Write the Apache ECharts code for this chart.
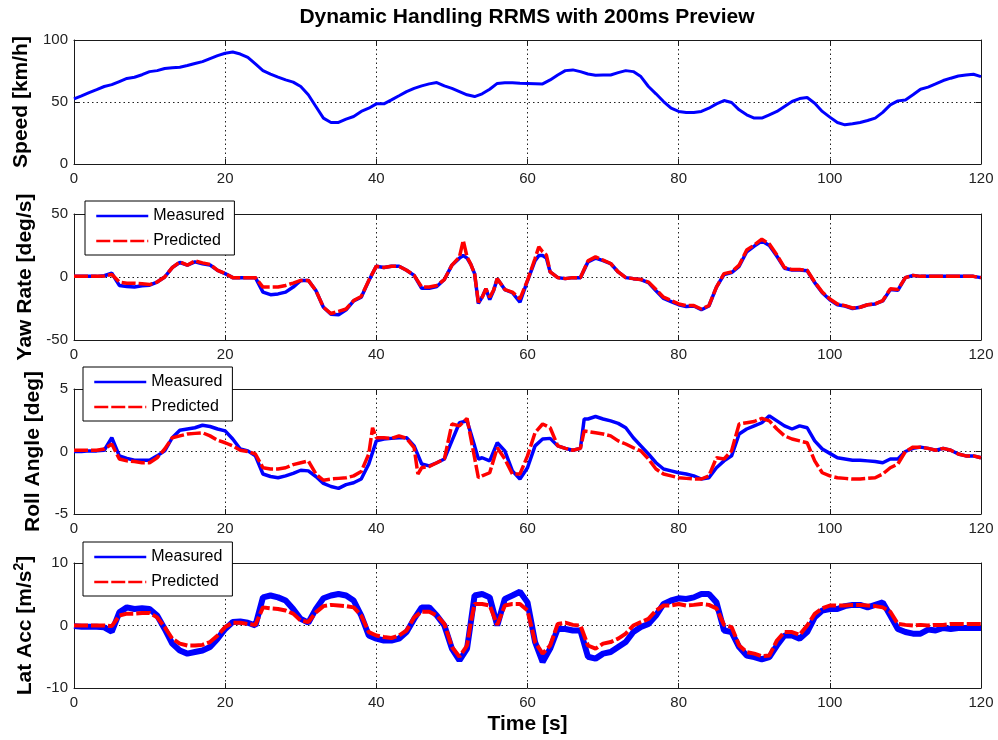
<!DOCTYPE html>
<html>
<head>
<meta charset="utf-8">
<script src="https://cdn.jsdelivr.net/npm/echarts@6/dist/echarts.min.js"></script>
<style>
  html, body { margin: 0; padding: 0; background: #ffffff; }
  #chart { width: 998px; height: 740px; }
</style>
</head>
<body>
<div id="chart"></div>
<script>
// Tick labels
const timeTicks  = [0, 20, 40, 60, 80, 100, 120];
const speedTicks = [0, 50, 100];
const yawTicks   = [-50, 0, 50];
const rollTicks  = [-5, 0, 5];
const latTicks   = [-10, 0, 10];

// Vehicle speed [km/h] vs time [s]
const speed = [
  [0,52.5],[1,55],[2,57.6],[3,60],[4,62.5],[5,64],[6,66.5],[7,69],[8,70],[9,72],
  [10,74.5],[11,75.3],[12,77],[13,77.7],[14,78],[15,79.4],[16,81],[17,82.6],[18,85],[19,87.4],
  [20,89.3],[21,90.3],[22,88.7],[23,86],[24,80.7],[25,75.3],[26,72.4],[27,70],[28,67.8],[29,66],
  [30,62.5],[31,55.8],[32,46.4],[33,37],[34,33.5],[35,33.5],[36,36.2],[37,38.3],[38,42.4],[39,45],
  [40,48.5],[41,48.5],[42,51.7],[43,55],[44,58.4],[45,61],[46,63],[47,64.6],[48,65.7],[49,63],
  [50,61],[51,58.4],[52,55.8],[53,54.4],[54,56.6],[55,60.3],[56,65],[57,65.6],[58,65.5],[59,65.2],
  [60,65],[61,64.8],[62,64.6],[63,67.8],[64,71.8],[65,75.3],[66,75.9],[67,74.5],[68,72.6],[69,71.6],
  [70,71.8],[71,71.8],[72,73.7],[73,75.3],[74,74.5],[75,70.5],[76,62.5],[77,56.6],[78,50.4],[79,45],
  [80,42.4],[81,41.6],[82,41.6],[83,42.4],[84,45],[85,48.5],[86,51.2],[87,49.6],[88,43.7],[89,39.7],
  [90,37],[91,37],[92,39.7],[93,42.4],[94,46.4],[95,50.4],[96,52.8],[97,53.6],[98,49],[99,42.4],
  [100,37.8],[101,33.5],[102,31.6],[103,32.4],[104,33.5],[105,35.1],[106,37],[107,41.6],[108,47.7],[109,50.9],
  [110,51.7],[111,55.8],[112,60.3],[113,62],[114,64.6],[115,67.3],[116,69.2],[117,71],[118,71.8],[119,72.4],
  [120,70.5]
];

// Yaw rate [deg/s]
const yawMeasured = [
  [0,0.5],[1,0.5],[2,0.5],[3,0.5],[4,1],[5,3],[6,-6.7],[7,-7.5],[8,-8],[9,-7],
  [10,-6.5],[11,-4],[12,0],[13,7.5],[14,11.5],[15,9.4],[16,12],[17,10.5],[18,9.5],[19,5.3],
  [20,2.7],[21,-0.5],[22,-0.5],[23,-0.5],[24,-0.5],[25,-12],[26,-14],[27,-13.4],[28,-12],[29,-8],
  [30,-2.7],[31,-2.7],[32,-10.7],[33,-24],[34,-29.5],[35,-30],[36,-26],[37,-19],[38,-16],[39,-3],
  [40,8.6],[41,7.5],[42,8.6],[43,8.6],[44,5.3],[45,1.3],[46,-9],[47,-9],[48,-7.5],[49,-2],
  [50,9.4],[51,15],[51.5,17],[52,15],[52.5,10],[53,2.7],[53.5,-21],[54,-16],[54.5,-9.4],[55,-18],
  [55.5,-11],[56,-1.3],[57,-10],[58,-12.5],[59,-20],[60,-3],[61,13],[61.5,17],[62,17],[62.5,15],
  [63,4],[64,-0.5],[65,-1.3],[66,-0.5],[67,-0.5],[68,12],[69,15],[70,13],[71,10.7],[72,4],
  [73,-0.5],[74,-1.3],[75,-2],[76,-4.5],[77,-11],[78,-17],[79,-19.5],[80,-22],[81,-23.5],[82,-23],
  [83,-26],[84,-23],[85,-8],[86,2],[87,3.5],[88,8.5],[89,20],[90,24.5],[91,28.5],[92,25],
  [93,16.5],[94,7],[95,5.5],[96,5.5],[97,5],[98,-4.5],[99,-12.5],[100,-18],[101,-22],[102,-23],
  [103,-25],[104,-24],[105,-22],[106,-21.4],[107,-19],[108,-10],[109,-10.5],[110,-0.5],[111,1.3],[112,0.5],
  [113,0.5],[114,0.5],[115,0.5],[116,0.5],[117,0.5],[118,0.5],[119,0.5],[120,-0.5]
];
const yawPredicted = [
  [0,0.5],[1,0.5],[2,0.5],[3,0.5],[4,0.8],[5,2],[6,-4],[7,-5],[8,-5],[9,-5.3],
  [10,-6],[11,-4],[12,0],[13,7.5],[14,12],[15,9.4],[16,12.8],[17,11.2],[18,10],[19,5.3],
  [20,2.7],[21,-0.5],[22,-0.5],[23,-0.5],[24,-0.5],[25,-8],[26,-8],[27,-8],[28,-6.7],[29,-4.8],
  [30,-2.7],[31,-2.7],[32,-10.7],[33,-24],[34,-29],[35,-27.3],[36,-25.4],[37,-18.7],[38,-15.5],[39,-2.7],
  [40,8.6],[41,7.5],[42,8.6],[43,8.6],[44,5.3],[45,1.3],[46,-8],[47,-8],[48,-6.7],[49,-2],
  [50,9.4],[51,16],[51.5,29],[52,16],[52.5,10],[53,2.7],[53.5,-20],[54,-16],[54.5,-9.4],[55,-16],
  [55.5,-10.7],[56,-1.3],[57,-10],[58,-12],[59,-17.4],[60,-2.7],[61,14.7],[61.5,24],[62,20],[62.5,17.4],
  [63,4],[64,-0.5],[65,-1.3],[66,-0.5],[67,-0.5],[68,12.8],[69,16],[70,13.4],[71,10.7],[72,4],
  [73,-0.5],[74,-1.3],[75,-2],[76,-4],[77,-10],[78,-16],[79,-18.7],[80,-21.4],[81,-22.7],[82,-22.7],
  [83,-25.4],[84,-22.7],[85,-8],[86,2.7],[87,4],[88,9.4],[89,21.4],[90,25.4],[91,30],[92,26.2],
  [93,17.4],[94,7.5],[95,5.9],[96,5.9],[97,5.3],[98,-4],[99,-12],[100,-17.4],[101,-21.4],[102,-22.7],
  [103,-24.6],[104,-24],[105,-22],[106,-21.4],[107,-18.7],[108,-9.4],[109,-10],[110,-0.5],[111,1.3],[112,0.5],
  [113,0.5],[114,0.5],[115,0.5],[116,0.5],[117,0.5],[118,0.5],[119,0.5],[120,-0.5]
];

// Roll angle [deg]
const rollMeasured = [
  [0,0],[1,0],[2,0.05],[3,0.05],[4,0.1],[5,1.1],[6,-0.35],[7,-0.55],[8,-0.7],[9,-0.7],
  [10,-0.7],[11,-0.35],[12,0.05],[13,1.1],[14,1.7],[15,1.8],[16,1.9],[17,2.1],[18,2],[19,1.8],
  [20,1.65],[21,1],[22,0.2],[23,0.05],[24,-0.35],[25,-1.8],[26,-2],[27,-2.1],[28,-1.95],[29,-1.75],
  [30,-1.5],[31,-1.55],[32,-2],[33,-2.55],[34,-2.8],[35,-2.95],[36,-2.65],[37,-2.5],[38,-2.2],[39,-1],
  [40,0.85],[41,1],[42,1.05],[43,1.1],[44,1.1],[45,0.45],[46,-1],[47,-1.15],[48,-0.9],[49,-0.6],
  [50,0.85],[51,2.3],[52,2.45],[53,0.45],[53.5,-0.6],[54,-0.5],[55,-0.75],[56,0.7],[57,0.05],[58,-1.55],
  [59,-2.2],[60,-1.3],[61,0.45],[62,1],[63,1.05],[64,0.45],[65,0.25],[66,0.1],[67,0.25],[67.5,2.6],
  [68,2.6],[69,2.8],[70,2.6],[71,2.45],[72,2.25],[73,1.9],[74,1.1],[75,0.45],[76,-0.2],[77,-0.9],
  [78,-1.4],[79,-1.55],[80,-1.7],[81,-1.8],[82,-1.95],[83,-2.2],[84,-2.1],[85,-1.3],[86,-0.75],[87,-0.35],
  [88,1.4],[89,1.8],[90,2.05],[91,2.3],[92,2.85],[93,2.45],[94,2.05],[95,1.8],[96,2.05],[97,1.9],
  [98,0.85],[99,0.2],[100,-0.15],[101,-0.5],[102,-0.6],[103,-0.7],[104,-0.7],[105,-0.75],[106,-0.8],[107,-0.9],
  [108,-0.6],[109,-0.6],[110,0],[111,0.25],[112,0.35],[113,0.25],[114,0.1],[115,0.25],[116,0.1],[117,-0.2],
  [118,-0.35],[119,-0.35],[120,-0.5]
];
const rollPredicted = [
  [0,0.1],[1,0.1],[2,0.1],[3,0.1],[4,0.2],[5,0.6],[6,-0.6],[7,-0.75],[8,-0.8],[9,-0.9],
  [10,-0.9],[11,-0.5],[12,0.2],[13,1.1],[14,1.25],[15,1.4],[16,1.45],[17,1.5],[18,1.25],[19,0.9],
  [20,0.7],[21,0.45],[22,0.1],[23,0],[24,-0.2],[25,-1.3],[26,-1.4],[27,-1.4],[28,-1.3],[29,-1.05],
  [30,-0.9],[31,-0.75],[32,-1.8],[33,-2.3],[34,-2.2],[35,-2.15],[36,-2.1],[37,-1.95],[38,-1.6],[39,-0.2],
  [39.5,1.9],[40,1.1],[41,1.1],[42,1.05],[43,1.25],[44,1.05],[45,0.3],[45.5,-1.8],[46,-1.3],[47,-1.2],
  [48,-0.9],[49,-0.6],[50,2.2],[51,2.05],[52,2.65],[53,-0.5],[53.5,-2.1],[54,-1.95],[55,-1.7],[56,0.3],
  [57,-0.6],[58,-1.8],[59,-1.8],[60,-0.35],[61,1.5],[62,2.2],[63,1.9],[64,0.45],[65,0.25],[66,0.1],
  [67,0.25],[67.5,1.65],[68,1.6],[69,1.5],[70,1.4],[71,1.25],[72,0.85],[73,0.6],[74,0.3],[75,0.05],
  [76,-0.6],[77,-1.4],[78,-1.8],[79,-1.95],[80,-2.1],[81,-2.15],[82,-2.2],[83,-2.2],[84,-1.95],[85,-0.5],
  [86,-0.6],[87,0.05],[88,2.2],[89,2.3],[90,2.4],[91,2.65],[92,2.45],[93,1.8],[94,1.25],[95,1],
  [96,0.85],[97,0.7],[98,-0.75],[99,-1.7],[100,-1.95],[101,-2.1],[102,-2.15],[103,-2.2],[104,-2.2],[105,-2.15],
  [106,-2.1],[107,-1.8],[108,-1.3],[109,-1],[110,0],[111,0.35],[112,0.35],[113,0.25],[114,0.1],[115,0.25],
  [116,0.1],[117,-0.2],[118,-0.35],[119,-0.35],[120,-0.5]
];

// Lateral acceleration [m/s^2]
const latMeasured = [
  [0,-0.1],[1,-0.2],[2,-0.2],[3,-0.2],[4,-0.3],[5,-1],[6,2.1],[7,2.9],[8,2.65],[9,2.75],
  [10,2.65],[11,1.6],[12,-0.55],[13,-2.9],[14,-4],[15,-4.5],[16,-4.25],[17,-4],[18,-3.45],[19,-2.1],
  [20,-0.55],[21,0.55],[22,0.65],[23,0.45],[24,0],[25,4.5],[26,4.8],[27,4.5],[28,4],[29,2.65],
  [30,1.05],[31,0.45],[32,2.65],[33,4.35],[34,4.8],[35,5.05],[36,4.8],[37,4],[38,1.6],[39,-1.6],
  [40,-2.1],[41,-2.4],[42,-2.4],[43,-2.1],[44,-1.05],[45,1.05],[46,2.9],[47,2.9],[48,1.6],[49,0],
  [50,-3.7],[51,-5.6],[52,-3.7],[52.5,0.5],[53,4.8],[54,5.05],[55,4.5],[56,0],[57,4.25],[58,4.8],
  [59,5.4],[60,3.7],[61,-2.65],[62,-5.85],[63,-3.7],[64,-0.55],[65,-0.55],[66,-0.8],[67,-0.8],[68,-5],
  [69,-5.3],[70,-4.5],[71,-4.25],[72,-3.45],[73,-2.65],[74,-1.05],[75,-0.25],[76,0.25],[77,1.6],[78,3.45],
  [79,4],[80,4.35],[81,4.25],[82,4.5],[83,5.05],[84,5.05],[85,3.7],[86,-0.8],[87,-1.05],[88,-3.45],
  [89,-4.8],[90,-5.05],[91,-5.4],[92,-5.05],[93,-3.2],[94,-1.6],[95,-1.6],[96,-2.1],[97,-1.05],[98,1.3],
  [99,2.4],[100,2.65],[101,2.65],[102,3.1],[103,3.3],[104,3.3],[105,2.9],[106,3.3],[107,3.7],[108,1.6],
  [109,-0.55],[110,-1.05],[111,-1.3],[112,-1.3],[113,-0.65],[114,-0.8],[115,-0.4],[116,-0.55],[117,-0.4],[118,-0.4],
  [119,-0.4],[120,-0.4]
];
const latPredicted = [
  [0,0],[1,0],[2,0],[3,0],[4,0],[5,-0.1],[6,1.6],[7,1.9],[8,1.9],[9,2],
  [10,2],[11,1.3],[12,-0.25],[13,-2.1],[14,-2.9],[15,-3.2],[16,-3.2],[17,-3.1],[18,-2.65],[19,-1.6],
  [20,-0.25],[21,0.45],[22,0.45],[23,0.25],[24,0.1],[25,2.9],[26,2.75],[27,2.65],[28,2.4],[29,1.9],
  [30,0.8],[31,0.55],[32,2.1],[33,3.1],[34,3.3],[35,3.2],[36,3.1],[37,2.9],[38,1.6],[39,-1.05],
  [40,-1.6],[41,-1.85],[42,-2],[43,-1.6],[44,-0.8],[45,1.3],[46,2.2],[47,2.2],[48,1.6],[49,0.25],
  [50,-3.45],[51,-5],[52,-3.2],[52.5,0.5],[53,3.45],[54,3.45],[55,3.2],[56,0.1],[57,3.2],[58,3.45],
  [59,3.45],[60,2.4],[61,-2.65],[62,-4.5],[63,-3.2],[64,0.25],[65,0.45],[66,0.1],[67,0],[68,-3.2],
  [69,-3.7],[70,-2.9],[71,-2.65],[72,-2.1],[73,-1.3],[74,0],[75,0.55],[76,1.05],[77,2.4],[78,3.2],
  [79,3.2],[80,3.45],[81,3.2],[82,3.3],[83,3.45],[84,3.3],[85,2.75],[86,0.1],[87,-0.25],[88,-3.2],
  [89,-4.25],[90,-4.5],[91,-4.9],[92,-4.8],[93,-2.4],[94,-1.05],[95,-1.05],[96,-1.5],[97,0],[98,1.85],
  [99,2.75],[100,3.2],[101,3.2],[102,3.2],[103,3.3],[104,3.3],[105,3.2],[106,3.1],[107,2.9],[108,2.2],
  [109,0.25],[110,0.1],[111,0],[112,0.1],[113,0],[114,0.1],[115,0.1],[116,0.25],[117,0.25],[118,0.25],
  [119,0.25],[120,0.25]
];

const FONT = '"Liberation Sans", Arial, Helvetica, sans-serif';
const INK = '#1a1a1a';
const BLUE = '#0000ff';
const RED = '#ff0000';

// Layout of the four stacked panels
const panels = [
  { top: 40,  height: 124, ticks: speedTicks, label: 'Speed [km/h]',     gap: 38 },
  { top: 214, height: 126, ticks: yawTicks,   label: 'Yaw Rate [deg/s]', gap: 36 },
  { top: 389, height: 125, ticks: rollTicks,  label: 'Roll Angle [deg]', gap: 28 },
  { top: 563, height: 125, ticks: latTicks,   label: 'Lat Acc [m/s{sup|2}]', gap: 34 }
];

const tickStep = t => t[1] - t[0];

const grid = [], xAxis = [], yAxis = [];
panels.forEach((p, i) => {
  grid.push({ left: 74, width: 907, top: p.top, height: p.height, outerBoundsMode: 'none', containLabel: false });
  const isLast = i === panels.length - 1;
  // bottom time axis with labels and dotted grid
  xAxis.push({
    type: 'value', gridIndex: i, position: 'bottom',
    min: timeTicks[0], max: timeTicks[timeTicks.length - 1], interval: tickStep(timeTicks),
    axisLine: { show: true, onZero: false, lineStyle: { color: INK, width: 1 } },
    axisTick: { show: true, inside: true, length: 5, lineStyle: { color: INK } },
    axisLabel: { show: true, margin: 7, color: '#222', fontFamily: FONT, fontSize: 15, showMinLabel: true, showMaxLabel: true, hideOverlap: false },
    splitLine: { show: true, lineStyle: { color: '#222', width: 1, type: [1.5, 3] } },
    name: isLast ? 'Time [s]' : '', nameLocation: 'middle', nameGap: 26,
    nameTextStyle: { fontFamily: FONT, fontSize: 21, fontWeight: 'bold', color: '#000' }
  });
  // top mirror axis (box edge with ticks)
  xAxis.push({
    type: 'value', gridIndex: i, position: 'top',
    min: timeTicks[0], max: timeTicks[timeTicks.length - 1], interval: tickStep(timeTicks),
    axisLine: { show: true, onZero: false, lineStyle: { color: INK, width: 1 } },
    axisTick: { show: true, inside: true, length: 5, lineStyle: { color: INK } },
    axisLabel: { show: false }, splitLine: { show: false }
  });
  yAxis.push({
    type: 'value', gridIndex: i, position: 'left',
    min: p.ticks[0], max: p.ticks[p.ticks.length - 1], interval: tickStep(p.ticks),
    axisLine: { show: true, onZero: false, lineStyle: { color: INK, width: 1 } },
    axisTick: { show: true, inside: true, length: 5, lineStyle: { color: INK } },
    axisLabel: { show: true, margin: 6, color: '#222', fontFamily: FONT, fontSize: 15, showMinLabel: true, showMaxLabel: true, hideOverlap: false },
    splitLine: { show: true, lineStyle: { color: '#222', width: 1, type: [1.5, 3] } },
    name: p.label, nameLocation: 'middle', nameRotate: 90, nameGap: p.gap,
    nameTextStyle: {
      fontFamily: FONT, fontSize: 21, fontWeight: 'bold', color: '#000',
      rich: { sup: { fontFamily: FONT, fontSize: 14, fontWeight: 'bold', color: '#000', verticalAlign: 'top', padding: [0, 0, 11, 0] } }
    }
  });
  yAxis.push({
    type: 'value', gridIndex: i, position: 'right',
    min: p.ticks[0], max: p.ticks[p.ticks.length - 1], interval: tickStep(p.ticks),
    axisLine: { show: true, onZero: false, lineStyle: { color: INK, width: 1 } },
    axisTick: { show: true, inside: true, length: 5, lineStyle: { color: INK } },
    axisLabel: { show: false }, splitLine: { show: false }
  });
});

function lineSeries(name, data, panel, color, width, dashed) {
  return {
    type: 'line', name: name, data: data,
    xAxisIndex: panel * 2, yAxisIndex: panel * 2,
    symbol: 'none', showSymbol: false, smooth: false, sampling: null,
    lineStyle: { color: color, width: width, type: dashed ? [14, 3] : 'solid' },
    itemStyle: { color: color },
    emphasis: { disabled: true }, z: dashed ? 3 : 2
  };
}

const series = [
  lineSeries('Speed', speed, 0, BLUE, 3, false),
  lineSeries('Measured', yawMeasured, 1, BLUE, 3.5, false),
  lineSeries('Predicted', yawPredicted, 1, RED, 3.5, true),
  lineSeries('Measured', rollMeasured, 2, BLUE, 3.5, false),
  lineSeries('Predicted', rollPredicted, 2, RED, 3.5, true),
  lineSeries('Measured', latMeasured, 3, BLUE, 6, false),
  lineSeries('Predicted', latPredicted, 3, RED, 4, true)
];

// Boxed legend in the upper-left corner of a panel; line samples only, no markers
function legendBox(left, top) {
  return {
    data: ['Measured', 'Predicted'], orient: 'vertical', left: left, top: top,
    padding: [7, 10, 6, 10], itemWidth: 52, itemHeight: 16, itemGap: 9,
    borderColor: '#000', borderWidth: 1, backgroundColor: '#fff', borderRadius: 0,
    selectedMode: false,
    itemStyle: { color: 'rgba(0,0,0,0)', borderColor: 'rgba(0,0,0,0)', borderWidth: 0, opacity: 0 },
    lineStyle: { width: 2.5, type: 'inherit' },
    textStyle: { fontFamily: FONT, fontSize: 16, color: '#000' }
  };
}

const option = {
  animation: false,
  backgroundColor: '#ffffff',
  title: {
    text: 'Dynamic Handling RRMS with 200ms Preview',
    left: 527, top: 7, padding: 0, textAlign: 'center',
    textStyle: { fontFamily: FONT, fontSize: 21, fontWeight: 'bold', color: '#000' }
  },
  legend: [legendBox(85, 201), legendBox(83, 367), legendBox(83, 542)],
  grid: grid, xAxis: xAxis, yAxis: yAxis, series: series
};

const chart = echarts.init(document.getElementById('chart'), null, { renderer: 'canvas' });
chart.setOption(option);
</script>
</body>
</html>
